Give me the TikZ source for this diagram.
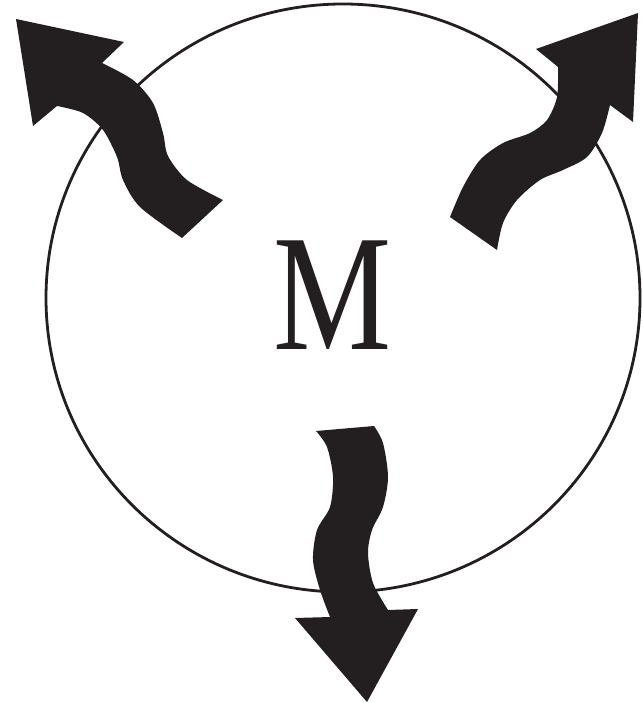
\documentclass[tikz,border=0pt]{standalone}
\usepackage{fontspec}
\setmainfont{Liberation Serif}
\definecolor{ink}{HTML}{231F20}
\begin{document}
\begin{tikzpicture}[x=1pt,y=-1pt,
  ring/.style={draw=ink,line width=2.8pt},
  blob/.style={fill=ink,draw=none}]
\useasboundingbox (0,0) rectangle (641,703);
\draw[ring] (343,298) ellipse [x radius=297, y radius=294];
\node[inner sep=0pt,text=ink] (m) at (333,295) {\scalebox{0.8}[1]{\fontsize{166}{166}\selectfont M}};
% top-left arrow
\fill[blob] (16,19) -- (124,42) -- (102,63)
  -- plot[smooth] coordinates {(102,63) (133,80) (153,103) (163,133) (168,156) (187,180) (223,200)}
  -- (182,238)
  -- plot[smooth] coordinates {(182,238) (140,207) (123,180) (117,157) (103,130) (83,113) (57,106)}
  -- (33,126) -- cycle;
% top-right arrow
\fill[blob] (638,13) -- (633,122) -- (610,105)
  -- plot[smooth] coordinates {(610,105) (602,133) (587,157) (563,170) (540,180) (517,200) (503,223) (497,250)}
  -- (450,217)
  -- plot[smooth] coordinates {(450,217) (463,187) (480,160) (503,143) (530,133) (547,120) (557,97) (558,67)}
  -- (536,49) -- cycle;
% bottom arrow
\fill[blob] (367,702) -- (295,618) -- (330,617)
  -- plot[smooth] coordinates {(330,617) (320,590) (313,560) (317,530) (330,507) (333,477) (327,447) (316,431)}
  -- (374,426)
  -- plot[smooth] coordinates {(374,426) (383,443) (388,477) (383,507) (372,530) (368,553) (373,583) (388,610)}
  -- (418,609) -- cycle;
\end{tikzpicture}
\end{document}
